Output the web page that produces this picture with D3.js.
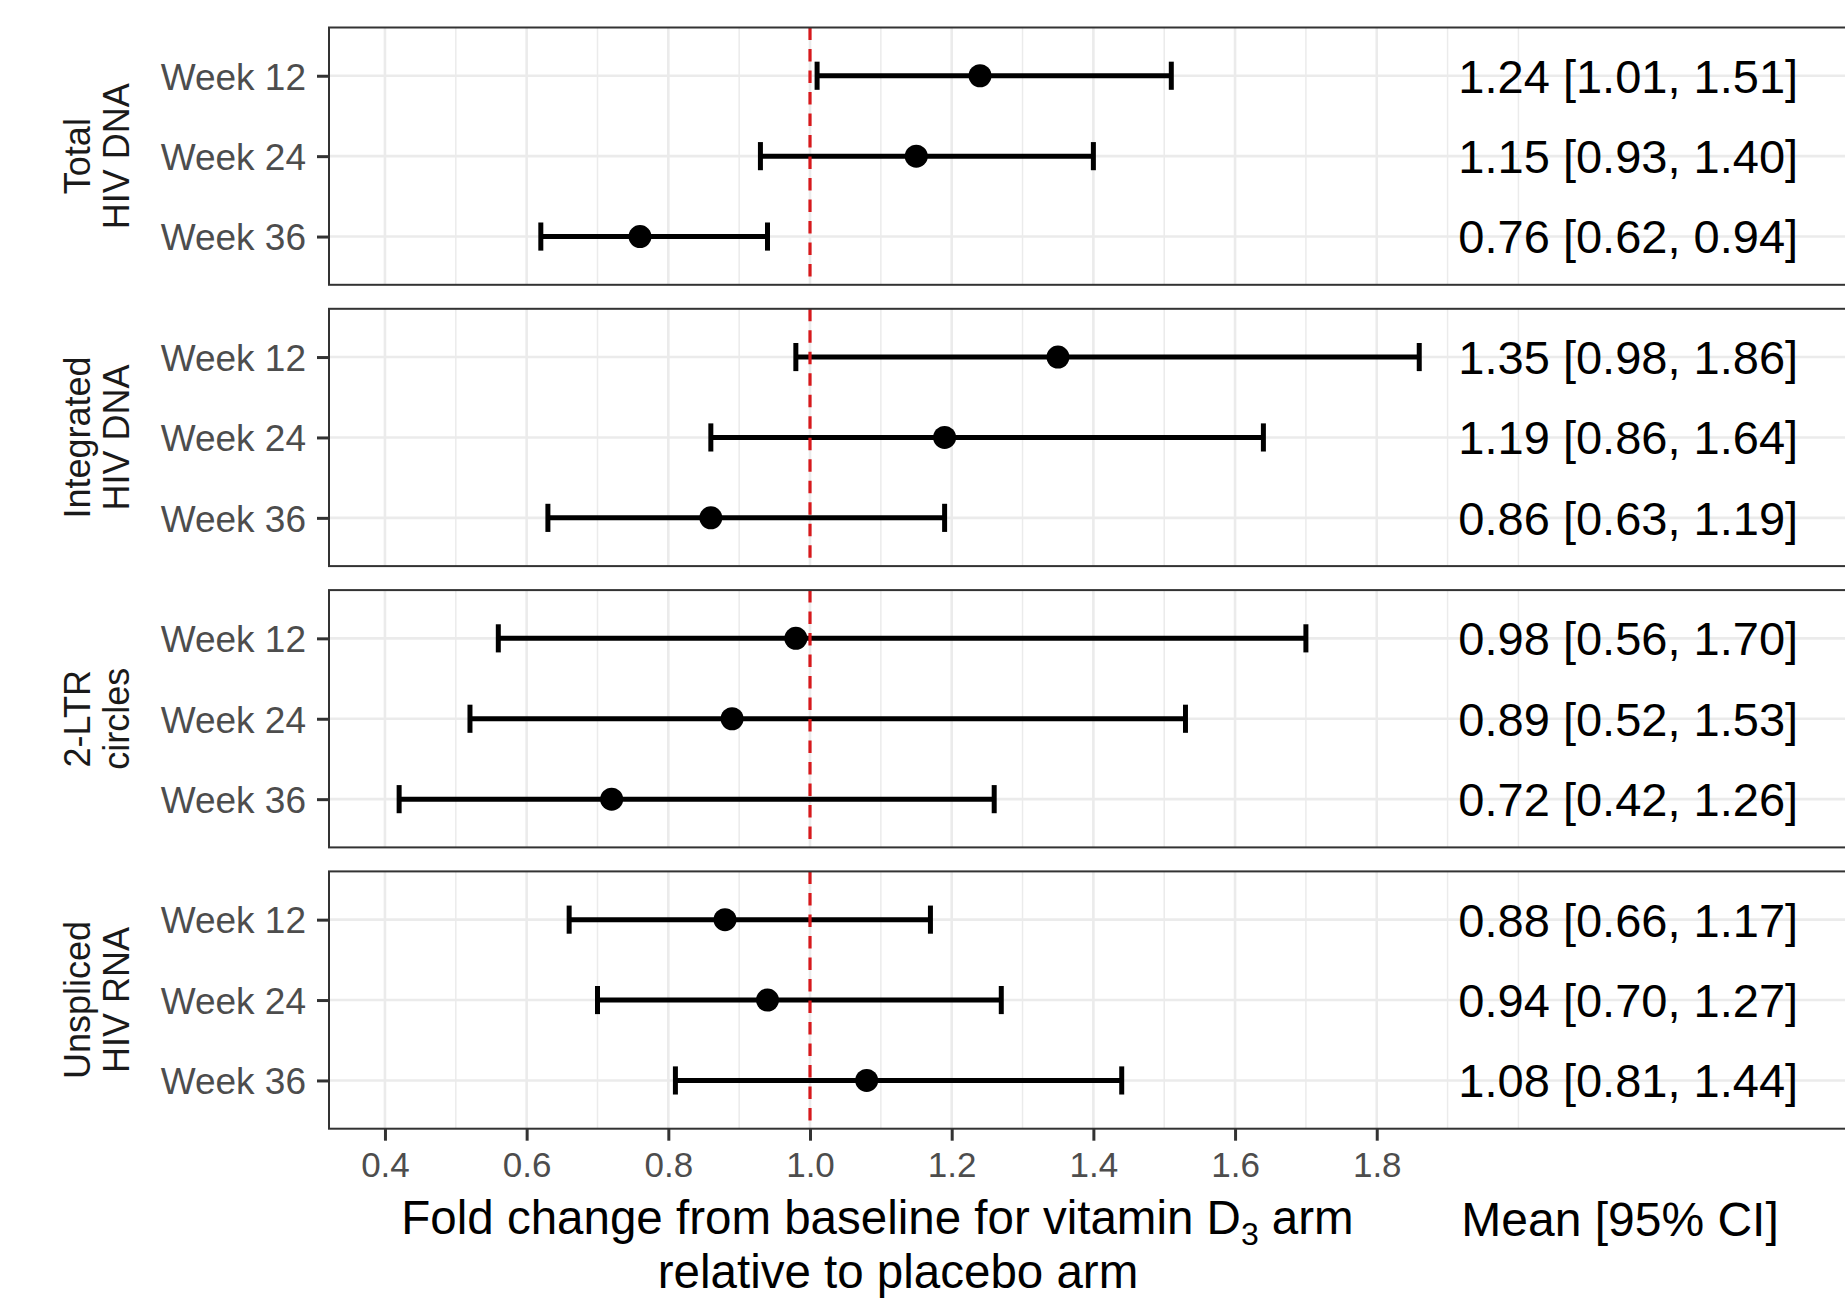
<!DOCTYPE html>
<html>
<head>
<meta charset="utf-8">
<script src="https://cdn.jsdelivr.net/npm/d3@7"></script>
<style>
  body { margin: 0; background: #fff; }
  svg { display: block; font-family: "Liberation Sans", Arial, sans-serif; }
</style>
</head>
<body>
<div id="chart"></div>
<script>
// data
var measures = [["Total", "HIV DNA"], ["Integrated", "HIV DNA"], ["2-LTR", "circles"], ["Unspliced", "HIV RNA"]];
var weeks = ["Week 12", "Week 24", "Week 36"];
var means  = [[1.24, 1.15, 0.76], [1.35, 1.19, 0.86], [0.98, 0.89, 0.72], [0.88, 0.94, 1.08]];
var lowers = [[1.01, 0.93, 0.62], [0.98, 0.86, 0.63], [0.56, 0.52, 0.42], [0.66, 0.70, 0.81]];
var uppers = [[1.51, 1.40, 0.94], [1.86, 1.64, 1.19], [1.70, 1.53, 1.26], [1.17, 1.27, 1.44]];
var xTicks = [0.4, 0.6, 0.8, 1.0, 1.2, 1.4, 1.6, 1.8];
var minorTicks = [0.5, 0.7, 0.9, 1.1, 1.3, 1.5, 1.7, 1.9, 2.0];
var refValue = 1.0;

var width = 1845, height = 1300;
var panel = {left: 329, right: 1845, top: 27.5, step: 281.3, height: 257.3};
var labelX = 2.155; // where the "mean [CI]" text sits, in data units

var fmt = d3.format(".2f");

var svg = d3.select("#chart").append("svg")
  .attr("width", width)
  .attr("height", height);

var xScale = d3.scaleLinear()
  .domain([0.321, 2.461])
  .range([panel.left, panel.right]);

var yScale = d3.scalePoint()
  .domain(weeks)
  .range([0, panel.height])
  .padding(0.6);

var capHalf = yScale.step() * 0.175;

measures.forEach(function(m, i) {
  var top = panel.top + i * panel.step;
  var g = svg.append("g").attr("transform", "translate(0," + top + ")");

  // minor + major grid
  g.selectAll(".minor").data(minorTicks).enter().append("line")
    .attr("x1", function(d) { return xScale(d); })
    .attr("x2", function(d) { return xScale(d); })
    .attr("y1", 0).attr("y2", panel.height)
    .attr("stroke", "#ebebeb").attr("stroke-width", 1.5);
  g.selectAll(".major").data(xTicks).enter().append("line")
    .attr("x1", function(d) { return xScale(d); })
    .attr("x2", function(d) { return xScale(d); })
    .attr("y1", 0).attr("y2", panel.height)
    .attr("stroke", "#ebebeb").attr("stroke-width", 2.6);
  g.selectAll(".hgrid").data(weeks).enter().append("line")
    .attr("x1", panel.left).attr("x2", panel.right)
    .attr("y1", function(d) { return yScale(d); })
    .attr("y2", function(d) { return yScale(d); })
    .attr("stroke", "#ebebeb").attr("stroke-width", 2.6);

  var rows = weeks.map(function(w, j) {
    return {week: w, mean: means[i][j], lo: lowers[i][j], hi: uppers[i][j]};
  });

  // error bars
  g.selectAll(".bar").data(rows).enter().append("line")
    .attr("x1", function(d) { return xScale(d.lo); })
    .attr("x2", function(d) { return xScale(d.hi); })
    .attr("y1", function(d) { return yScale(d.week); })
    .attr("y2", function(d) { return yScale(d.week); })
    .attr("stroke", "#000").attr("stroke-width", 5);
  ["lo", "hi"].forEach(function(k) {
    g.selectAll(".cap-" + k).data(rows).enter().append("line")
      .attr("x1", function(d) { return xScale(d[k]); })
      .attr("x2", function(d) { return xScale(d[k]); })
      .attr("y1", function(d) { return yScale(d.week) - capHalf; })
      .attr("y2", function(d) { return yScale(d.week) + capHalf; })
      .attr("stroke", "#000").attr("stroke-width", 5);
  });

  // reference line at 1
  g.append("line")
    .attr("x1", xScale(refValue)).attr("x2", xScale(refValue))
    .attr("y1", 0).attr("y2", panel.height)
    .attr("stroke", "#d7191c").attr("stroke-width", 3.2)
    .attr("stroke-dasharray", "12.5,9");

  g.selectAll(".pt").data(rows).enter().append("circle")
    .attr("cx", function(d) { return xScale(d.mean); })
    .attr("cy", function(d) { return yScale(d.week); })
    .attr("r", 11.5)
    .attr("fill", "#000");

  // mean [CI] text
  g.selectAll(".ci").data(rows).enter().append("text")
    .attr("x", xScale(labelX))
    .attr("y", function(d) { return yScale(d.week); })
    .attr("dy", "0.36em")
    .attr("text-anchor", "middle")
    .attr("font-size", 47)
    .attr("fill", "#000")
    .text(function(d) { return fmt(d.mean) + " [" + fmt(d.lo) + ", " + fmt(d.hi) + "]"; });

  // border
  g.append("rect")
    .attr("x", panel.left).attr("y", 0)
    .attr("width", panel.right - panel.left + 5).attr("height", panel.height)
    .attr("fill", "none").attr("stroke", "#333").attr("stroke-width", 2);

  // y axis
  var yAxis = g.append("g")
    .attr("transform", "translate(" + panel.left + ",0)")
    .call(d3.axisLeft(yScale).tickSize(12).tickPadding(11));
  yAxis.select(".domain").remove();
  yAxis.selectAll("line").attr("stroke", "#333").attr("stroke-width", 3);
  yAxis.selectAll("text")
    .attr("dy", "0.36em")
    .attr("font-size", 37)
    .attr("font-family", "Liberation Sans, Arial, sans-serif")
    .attr("fill", "#4d4d4d");

  // strip label (rotated, two lines)
  var cy = panel.height / 2;
  var strip = g.append("text")
    .attr("transform", "translate(90," + cy + ") rotate(-90)")
    .attr("text-anchor", "middle")
    .attr("font-size", 36)
    .attr("fill", "#1a1a1a");
  m.forEach(function(line, k) {
    strip.append("tspan").attr("x", 0).attr("y", k * 39).text(line);
  });

  if (i === measures.length - 1) {
    var xAxis = g.append("g")
      .attr("transform", "translate(0," + panel.height + ")")
      .call(d3.axisBottom(xScale).tickValues(xTicks).tickFormat(d3.format(".1f")).tickSize(12).tickPadding(11));
    xAxis.select(".domain").remove();
    xAxis.selectAll("line").attr("stroke", "#333").attr("stroke-width", 3);
    xAxis.selectAll("text")
      .attr("font-size", 35)
      .attr("font-family", "Liberation Sans, Arial, sans-serif")
      .attr("fill", "#4d4d4d");
  }
});

// axis titles
var title = svg.append("text")
  .attr("x", 877.5).attr("y", 1234)
  .attr("text-anchor", "middle")
  .attr("font-size", 47.5)
  .attr("fill", "#000");
title.append("tspan").text("Fold change from baseline for vitamin D");
title.append("tspan").attr("font-size", 32).attr("dy", 11).text("3");
title.append("tspan").attr("dy", -11).text(" arm");

svg.append("text")
  .attr("x", 898).attr("y", 1288)
  .attr("text-anchor", "middle")
  .attr("font-size", 47.5)
  .attr("fill", "#000")
  .text("relative to placebo arm");

svg.append("text")
  .attr("x", 1620).attr("y", 1236)
  .attr("text-anchor", "middle")
  .attr("font-size", 48)
  .attr("fill", "#000")
  .text("Mean [95% CI]");
</script>
</body>
</html>
